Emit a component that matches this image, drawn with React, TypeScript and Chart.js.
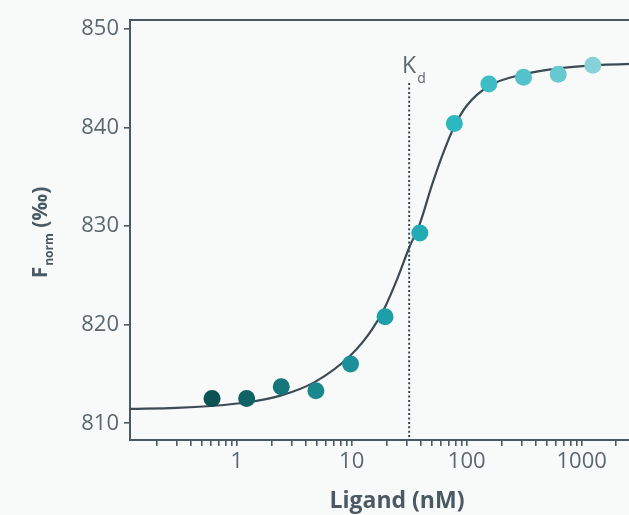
import React, { useEffect, useRef } from 'react';
import { Chart, registerables } from 'chart.js';

Chart.register(...registerables);

// Measured points (ligand concentration in nM, Fnorm in ‰)
const ligandNM = [0.61, 1.22, 2.44, 4.88, 9.77, 19.5, 39.1, 78.1, 156, 312, 625, 1250];
const fnorm = [812.5, 812.5, 813.7, 813.3, 816.0, 820.8, 829.3, 840.4, 844.4, 845.1, 845.4, 846.3];
const pointColors = [
  '#0b5254', '#0f6265', '#14767a', '#1a878d', '#1b9098', '#1e9ea6',
  '#22abb4', '#2db7c0', '#3ebdc6', '#52c3cb', '#67c9d0', '#86d2d8',
];

const fitX = [0.118, 0.3, 0.6, 1.2, 2.4, 4.8, 9.8, 15, 19.5, 25, 31.6, 39, 50, 62, 78, 100, 156, 312, 625, 1250, 5200];
const fitY = [811.45, 811.55, 811.75, 812.1, 812.8, 814.2, 816.9, 819.5, 821.8, 824.7, 827.8, 830.2, 834.2, 837.3, 840.1, 842.2, 844.2, 845.4, 846.0, 846.3, 846.55];

// Kd marker
const kdValue = 31.6;
const kdTop = 844.5;

// Axes
const xMin = 0.118;
const xMax = 5200;
const yMin = 808.3;
const yMax = 850.9;
const yTicks = [810, 820, 830, 840, 850];
const xMajorTicks = [1, 10, 100, 1000];
const xMinorTicks = [
  0.2, 0.3, 0.4, 0.5, 0.6, 0.7, 0.8, 0.9,
  2, 3, 4, 5, 6, 7, 8, 9,
  20, 30, 40, 50, 60, 70, 80, 90,
  200, 300, 400, 500, 600, 700, 800, 900,
  2000, 3000, 4000, 5000,
];

const AXIS = '#4a5a64';
const CURVE = '#3c4a54';
const TEXT = '#5b6870';
const FONT = "'Open Sans', 'Noto Sans', sans-serif";

const extrasPlugin = {
  id: 'extras',
  beforeDatasetsDraw(chart: any) {
    const { ctx, chartArea } = chart;
    ctx.save();
    ctx.strokeStyle = AXIS;
    ctx.lineWidth = 2;
    ctx.beginPath();
    ctx.moveTo(chartArea.left, chartArea.top);
    ctx.lineTo(chartArea.right, chartArea.top);
    ctx.lineTo(chartArea.right, chartArea.bottom);
    ctx.stroke();
    ctx.restore();
  },
  afterDraw(chart: any) {
    const { ctx, chartArea } = chart;
    const xs = chart.scales.x;
    const ys = chart.scales.y;
    // Kd label
    const xk = xs.getPixelForValue(kdValue);
    const yk = ys.getPixelForValue(kdTop);
    ctx.save();
    ctx.fillStyle = TEXT;
    ctx.textBaseline = 'alphabetic';
    ctx.textAlign = 'center';
    ctx.font = `400 23px ${FONT}`;
    ctx.fillText('K', xk, yk - 10);
    ctx.textAlign = 'left';
    ctx.font = `400 14px ${FONT}`;
    ctx.fillText('d', xk + 8, yk);
    ctx.restore();

    // Y axis title: F_norm (‰)
    const cy = (chartArea.top + chartArea.bottom) / 2 + 3;
    ctx.save();
    ctx.translate(47, cy);
    ctx.rotate(-Math.PI / 2);
    ctx.fillStyle = AXIS;
    ctx.textBaseline = 'alphabetic';
    ctx.textAlign = 'left';
    const big = `bold 21px ${FONT}`;
    const small = `bold 12px ${FONT}`;
    ctx.font = big;
    const wF = ctx.measureText('F').width;
    const wP = ctx.measureText(' (‰)').width;
    ctx.font = small;
    const wN = ctx.measureText('norm').width;
    let x0 = -(wF + wN + wP) / 2;
    ctx.font = big;
    ctx.fillText('F', x0, 0);
    x0 += wF + 1;
    ctx.font = small;
    ctx.fillText('norm', x0, 6);
    x0 += wN;
    ctx.font = big;
    ctx.fillText(' (‰)', x0, 0);
    ctx.restore();
  },
};

export default function App() {
  const ref = useRef<HTMLCanvasElement | null>(null);

  useEffect(() => {
    document.body.style.margin = '0';
    document.body.style.background = '#f8f9f9';
    const canvas = ref.current;
    if (!canvas) return;

    const chart = new Chart(canvas, {
      type: 'scatter',
      data: {
        datasets: [
          {
            type: 'scatter',
            data: ligandNM.map((x, i) => ({ x, y: fnorm[i] })),
            backgroundColor: pointColors,
            borderWidth: 0,
            pointRadius: 8.5,
            pointHoverRadius: 8.5,
            order: 0,
          } as any,
          {
            type: 'line',
            data: fitX.map((x, i) => ({ x, y: fitY[i] })),
            borderColor: CURVE,
            borderWidth: 2.2,
            pointRadius: 0,
            cubicInterpolationMode: 'monotone',
            fill: false,
            order: 1,
          } as any,
          {
            type: 'line',
            data: [
              { x: kdValue, y: kdTop },
              { x: kdValue, y: yMin },
            ],
            borderColor: CURVE,
            borderWidth: 2,
            borderDash: [2, 2.4],
            pointRadius: 0,
            fill: false,
            order: 2,
          } as any,
        ],
      },
      options: {
        responsive: false,
        animation: false,
        events: [],
        layout: { padding: { left: 0, right: 16, top: 20, bottom: 0 } },
        plugins: {
          legend: { display: false },
          tooltip: { enabled: false },
        },
        scales: {
          x: {
            type: 'logarithmic',
            min: xMin,
            max: xMax,
            afterFit: (s: any) => {
              s.height = 75;
            },
            afterBuildTicks: (s: any) => {
              s.ticks = [...xMinorTicks, ...xMajorTicks]
                .sort((a, b) => a - b)
                .map((v) => ({ value: v, major: xMajorTicks.includes(v) }));
            },
            ticks: {
              autoSkip: false,
              maxRotation: 0,
              padding: 3,
              color: TEXT,
              font: { family: FONT, size: 22 },
              callback: (v: any) => (xMajorTicks.includes(Number(v)) ? String(v) : ''),
            },
            grid: {
              drawOnChartArea: false,
              drawTicks: true,
              tickLength: 6,
              color: AXIS,
              lineWidth: 1.6,
            },
            border: { display: true, color: AXIS, width: 2 },
            title: {
              display: true,
              text: 'Ligand (nM)',
              color: AXIS,
              font: { family: FONT, size: 23, weight: 'bold' },
              padding: { top: 0, bottom: 0 },
            },
          } as any,
          y: {
            type: 'linear',
            min: yMin,
            max: yMax,
            afterFit: (s: any) => {
              s.width = 130;
            },
            afterBuildTicks: (s: any) => {
              s.ticks = yTicks.map((v) => ({ value: v }));
            },
            ticks: {
              padding: 5,
              color: TEXT,
              font: { family: FONT, size: 22 },
            },
            grid: {
              drawOnChartArea: false,
              drawTicks: true,
              tickLength: 6,
              color: AXIS,
              lineWidth: 1.6,
            },
            border: { display: true, color: AXIS, width: 2 },
          } as any,
        },
      },
      plugins: [extrasPlugin],
    });

    return () => chart.destroy();
  }, []);

  return (
    <div
      style={{
        position: 'fixed',
        left: 0,
        top: 0,
        width: 629,
        height: 515,
        overflow: 'hidden',
        background: '#f8f9f9',
      }}
    >
      <canvas ref={ref} width={680} height={515} style={{ display: 'block', width: 680, height: 515 }} />
    </div>
  );
}
